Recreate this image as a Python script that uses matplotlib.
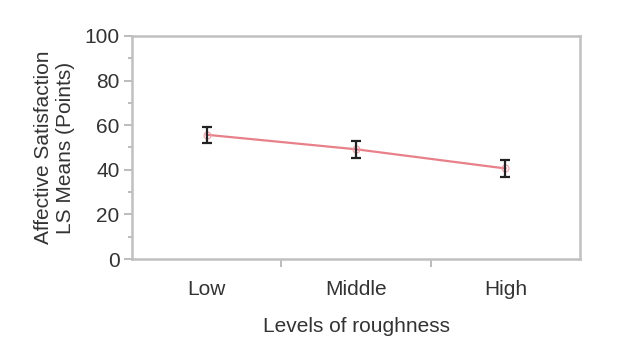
import matplotlib
matplotlib.use('Agg')
import matplotlib.pyplot as plt
from matplotlib.ticker import MultipleLocator, FixedLocator

plt.rcParams['font.family'] = ['Liberation Sans', 'DejaVu Sans']

levels = ['Low', 'Middle', 'High']
means = [55.7, 49.2, 40.6]
errors = [3.7, 3.8, 3.7]

fig = plt.figure(figsize=(6.21, 3.52), dpi=100)
ax = fig.add_axes([0.2126, 0.264, 0.7214, 0.634])

xs = list(range(len(levels)))
ax.plot(xs, means, color='#e8808a', lw=1.6, marker='o', ms=5,
        mfc='none', mec='#f0a0a8', mew=0.8, zorder=2)
ax.errorbar(xs, means, yerr=errors, fmt='none', ecolor='#222222',
            elinewidth=1.6, capsize=3.6, capthick=1.6, zorder=3)

ax.set_xlim(-0.5, 2.5)
ax.set_ylim(0, 100)
ax.yaxis.set_major_locator(MultipleLocator(20))
ax.yaxis.set_minor_locator(MultipleLocator(10))
ax.set_xticks(xs)
ax.set_xticklabels(levels)
ax.xaxis.set_minor_locator(FixedLocator([0.5, 1.5]))

for s in ax.spines.values():
    s.set_color('#c0c0c0')
    s.set_linewidth(1.8)

ax.tick_params(axis='y', which='major', length=6, width=1.2, color='#b0b0b0',
               labelsize=15, labelcolor='#333333', pad=3)
ax.tick_params(axis='y', which='minor', length=3, width=1.2, color='#b0b0b0')
ax.tick_params(axis='x', which='major', length=0, labelsize=15,
               labelcolor='#333333', pad=15)
ax.tick_params(axis='x', which='minor', length=6, width=1.2, color='#b0b0b0')

ax.set_ylabel('Affective Satisfaction\nLS Means (Points)', fontsize=15,
              color='#333333', labelpad=7, linespacing=1.2)
ax.set_xlabel('Levels of roughness', fontsize=15, color='#333333', labelpad=13)

fig.savefig('out.png', dpi=100)
